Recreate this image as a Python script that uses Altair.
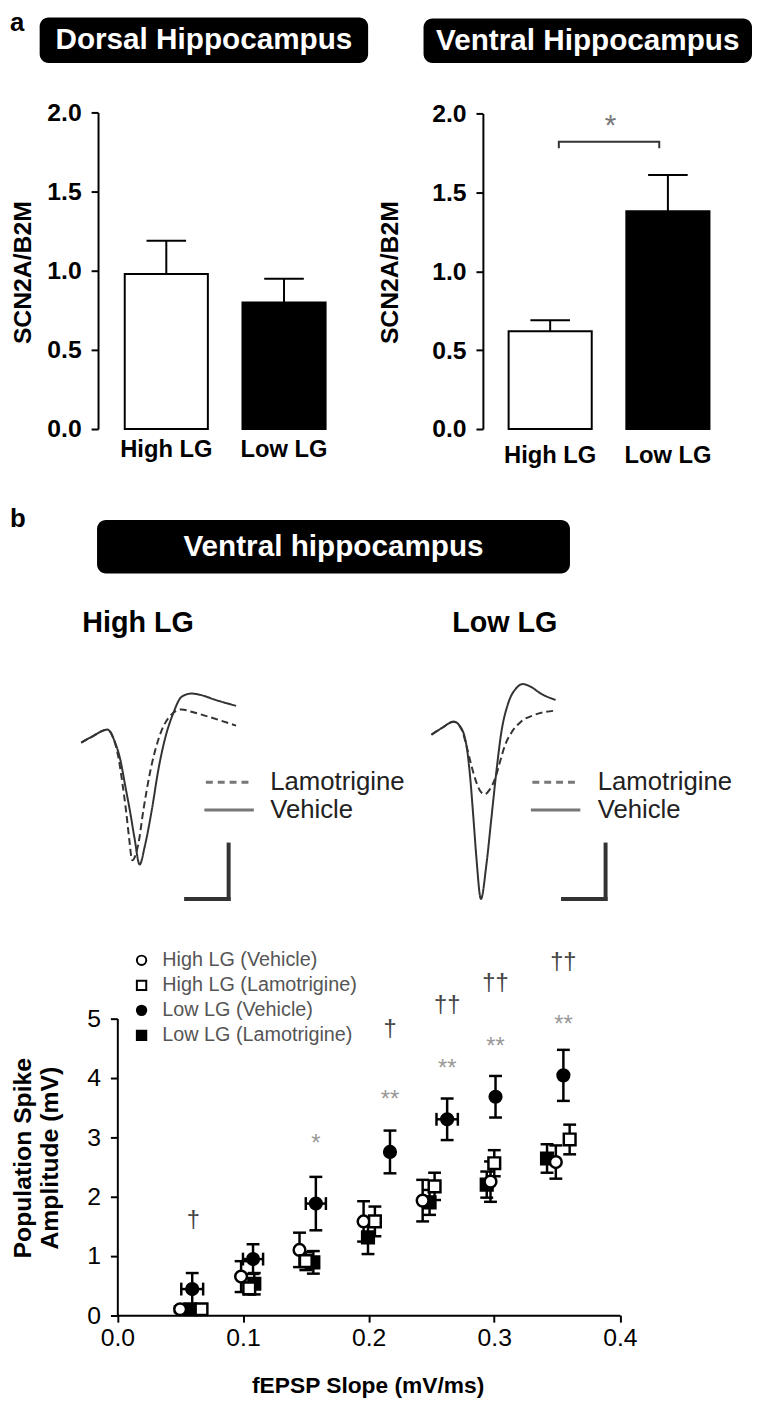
import altair as alt
import pandas as pd

FONT = "Liberation Sans"
W, H = 752, 1404

# ---------------- panel a : SCN2A / B2M bars ----------------
groups = ["High LG", "Low LG"]
dorsal_mean = [0.98, 0.80]
dorsal_sem = [0.21, 0.15]
ventral_mean = [0.62, 1.38]
ventral_sem = [0.07, 0.23]
ratio_ticks = [0.0, 0.5, 1.0, 1.5, 2.0]
bracket_level = 1.82
bracket_drop = 0.04

# ---------------- panel b : example traces (ms, mV) ----------------
hi_veh_t = [0.00, 0.23, 0.53, 0.66, 0.79, 0.89, 0.99, 1.08, 1.18, 1.29, 1.43, 1.56, 1.69, 1.86, 2.03, 2.23, 2.43, 2.69, 3.13]
hi_veh_v = [0.00, 0.16, 0.33, 0.08, -0.43, -1.09, -1.76, -2.43, -3.08, -2.59, -1.68, -0.68, 0.08, 0.74, 1.16, 1.24, 1.20, 1.09, 0.93]
hi_lam_t = [0.00, 0.23, 0.53, 0.66, 0.76, 0.84, 0.91, 0.97, 1.03, 1.15, 1.26, 1.39, 1.56, 1.76, 2.03, 2.23, 2.56, 3.13]
hi_lam_v = [0.00, 0.16, 0.33, 0.08, -0.43, -1.09, -1.76, -2.43, -2.97, -2.59, -1.68, -0.76, 0.08, 0.62, 0.84, 0.78, 0.66, 0.43]
lo_veh_t = [0.00, 0.21, 0.45, 0.58, 0.71, 0.78, 0.85, 0.91, 1.00, 1.11, 1.21, 1.31, 1.41, 1.55, 1.71, 1.85, 2.01, 2.21, 2.51]
lo_veh_v = [0.00, 0.17, 0.33, 0.21, -0.29, -1.04, -2.13, -3.13, -4.15, -3.29, -2.13, -0.96, 0.04, 0.79, 1.17, 1.28, 1.21, 1.04, 0.88]
lo_lam_t = [0.00, 0.21, 0.45, 0.61, 0.71, 0.81, 0.91, 1.01, 1.08, 1.18, 1.28, 1.38, 1.48, 1.61, 1.81, 2.08, 2.51]
lo_lam_v = [0.00, 0.17, 0.33, 0.13, -0.29, -0.79, -1.21, -1.46, -1.50, -1.38, -1.13, -0.71, -0.29, 0.04, 0.33, 0.50, 0.61]
trace_conditions = ["Vehicle", "Lamotrigine"]

# ---------------- panel b : input-output curve ----------------
series_names = ["High LG (Vehicle)", "High LG (Lamotrigine)", "Low LG (Vehicle)", "Low LG (Lamotrigine)"]
series_shapes = ["circle", "square", "circle", "square"]
series_fills = ["white", "white", "black", "black"]
hv_x = [0.050, 0.0985, 0.145, 0.196, 0.243, 0.297, 0.349]
hv_y = [0.10, 0.65, 1.10, 1.58, 1.93, 2.25, 2.58]
hv_e = [0.05, 0.26, 0.29, 0.34, 0.35, 0.34, 0.28]
hl_x = [0.067, 0.105, 0.150, 0.205, 0.2525, 0.300, 0.360]
hl_y = [0.10, 0.45, 0.91, 1.58, 2.17, 2.56, 2.96]
hl_e = [0.05, 0.10, 0.15, 0.25, 0.23, 0.22, 0.25]
lv_x = [0.0596, 0.108, 0.158, 0.217, 0.2625, 0.301, 0.355]
lv_y = [0.44, 0.945, 1.88, 2.75, 3.30, 3.68, 4.04]
lv_e = [0.27, 0.25, 0.45, 0.36, 0.35, 0.35, 0.43]
lv_xe = [0.0087, 0.008, 0.008, 0.0, 0.0085, 0.0, 0.0]
ll_x = [0.058, 0.109, 0.156, 0.1995, 0.2485, 0.294, 0.342]
ll_y = [0.10, 0.53, 0.89, 1.31, 1.90, 2.20, 2.64]
ll_e = [0.05, 0.18, 0.19, 0.28, 0.21, 0.22, 0.24]
dag_x = [0.0605, 0.217, 0.2625, 0.301, 0.355]
dag_y = [1.58, 4.81, 5.20, 5.57, 5.93]
dag_t = ["†", "†", "††", "††", "††"]
star_x = [0.158, 0.217, 0.2625, 0.301, 0.355]
star_y = [2.97, 3.70, 4.23, 4.60, 4.97]
star_t = ["*", "**", "**", "**", "**"]
slope_ticks = [0.0, 0.1, 0.2, 0.3, 0.4]
amp_ticks = [0, 1, 2, 3, 4, 5]


# ---------------- helpers ----------------
def qscale(domain, rng):
    return alt.Scale(domain=domain, range=rng, nice=False, zero=False)


def text_at(txt, x, y, size, weight="normal", color="black", align="left",
            baseline="middle", angle=0):
    return alt.Chart().mark_text(
        text=txt, font=FONT, fontSize=size, fontWeight=weight, color=color,
        align=align, baseline=baseline, angle=angle,
    ).encode(x=alt.value(x), y=alt.value(y))


def box(x0, x1, y0, y1):
    return alt.Chart().mark_rect(color="black", cornerRadius=9).encode(
        x=alt.value(x0), x2=alt.value(x1), y=alt.value(y0), y2=alt.value(y1))


def seg(x0, x1, y0, y1, width=4, color="#333333", dash=None):
    kw = dict(color=color, strokeWidth=width, strokeCap="square")
    if dash:
        kw = dict(color=color, strokeWidth=width, strokeDash=dash)
    return alt.Chart().mark_rule(**kw).encode(
        x=alt.value(x0), x2=alt.value(x1), y=alt.value(y0), y2=alt.value(y1))


def left_axis(xpos, values, fmt, size, weight, pad=10):
    return alt.Axis(orient="left", offset=-xpos, values=values, format=fmt,
                    tickSize=7, tickWidth=2, tickColor="black",
                    domainColor="black", domainWidth=2,
                    labelFont=FONT, labelFontSize=size, labelFontWeight=weight,
                    labelColor="black", labelPadding=pad, labelFlush=False,
                    labelOverlap=False, grid=False, title=None)


# ---------------- panel a layers ----------------
def bar_layers(means, sems, x_range, y_range, axis_x, label_pad, with_bracket=False):
    df = pd.DataFrame({"group": groups, "mean": means, "sem": sems})
    df["top"] = df["mean"] + df["sem"]
    df["base"] = 0.0
    xs = alt.Scale(domain=groups, range=x_range, paddingInner=0.294, paddingOuter=0)
    ys = qscale([0, 2], y_range)
    xaxis = alt.Axis(orient="bottom", offset=y_range[0] - H, domain=False, ticks=False,
                     labelFont=FONT, labelFontSize=24, labelFontWeight="bold",
                     labelColor="black", labelPadding=label_pad, labelAngle=0,
                     grid=False, title=None)
    fill = alt.when(alt.datum.group == "Low LG").then(alt.value("black")).otherwise(alt.value("white"))
    bars = alt.Chart(df).mark_bar(stroke="black", strokeWidth=2).encode(
        x=alt.X("group:N", scale=xs, axis=xaxis, sort=groups),
        y=alt.Y("mean:Q", scale=ys, axis=left_axis(axis_x, ratio_ticks, ".1f", 25, "bold")),
        y2="base:Q",
        fill=fill,
    )
    err = alt.Chart(df).mark_rule(color="black", strokeWidth=2).encode(
        x=alt.X("group:N", scale=xs, axis=None, sort=groups),
        y=alt.Y("mean:Q", scale=ys, axis=None),
        y2="top:Q",
    )
    cap = alt.Chart(df).mark_tick(orient="horizontal", size=40, thickness=2,
                                  color="black", opacity=1).encode(
        x=alt.X("group:N", scale=xs, axis=None, sort=groups),
        y=alt.Y("top:Q", scale=ys, axis=None),
    )
    out = [bars, err, cap]
    if with_bracket:
        bdf = pd.DataFrame({
            "group": [groups[0], groups[0], groups[1], groups[1]],
            "y": [bracket_level - bracket_drop, bracket_level, bracket_level,
                  bracket_level - bracket_drop],
            "k": [0, 1, 2, 3],
        })
        out.append(alt.Chart(bdf).mark_line(color="#333333", strokeWidth=2).encode(
            x=alt.X("group:N", scale=xs, axis=None, sort=groups),
            y=alt.Y("y:Q", scale=ys, axis=None),
            order="k:Q",
        ))
    return out


# ---------------- panel b trace layers ----------------
def trace_layer(tv, vv, tl, vl, x_range, y_range):
    df = pd.concat([
        pd.DataFrame({"t": tv, "v": vv, "cond": trace_conditions[0]}),
        pd.DataFrame({"t": tl, "v": vl, "cond": trace_conditions[1]}),
    ])
    return alt.Chart(df).mark_line(interpolate="monotone", color="#333333", strokeWidth=2).encode(
        x=alt.X("t:Q", scale=qscale([0, 3.2], x_range), axis=None),
        y=alt.Y("v:Q", scale=qscale([-4.5, 1.5], y_range), axis=None),
        strokeDash=alt.StrokeDash("cond:N", scale=alt.Scale(domain=trace_conditions,
                                                            range=[[1, 0], [7, 4]]), legend=None),
    )


# ---------------- panel b scatter layers ----------------
sx_range = [110.5, 618.5]
sy_range = [1313.7, 1013.7]


def sx(**kw):
    return alt.X(scale=qscale([0, 0.4], sx_range), **kw)


def sy(**kw):
    return alt.Y(scale=qscale([0, 5], sy_range), **kw)


parts = []
for name, xs_, ys_, es_ in [
    (series_names[3], ll_x, ll_y, ll_e),
    (series_names[2], lv_x, lv_y, lv_e),
    (series_names[0], hv_x, hv_y, hv_e),
    (series_names[1], hl_x, hl_y, hl_e),
]:
    parts.append(pd.DataFrame({"series": name, "x": xs_, "y": ys_, "e": es_}))
pts = pd.concat(parts, ignore_index=True)
pts["lo"] = pts["y"] - pts["e"]
pts["hi"] = pts["y"] + pts["e"]
caps = pd.concat([
    pts[["x", "lo"]].rename(columns={"lo": "c"}),
    pts[["x", "hi"]].rename(columns={"hi": "c"}),
], ignore_index=True)
xerr = pd.DataFrame({"x": lv_x, "y": lv_y, "xe": lv_xe})
xerr = xerr[xerr["xe"] > 0].copy()
xerr["xlo"] = xerr["x"] - xerr["xe"]
xerr["xhi"] = xerr["x"] + xerr["xe"]
xcaps = pd.concat([
    xerr[["y", "xlo"]].rename(columns={"xlo": "c"}),
    xerr[["y", "xhi"]].rename(columns={"xhi": "c"}),
], ignore_index=True)
sig_dag = pd.DataFrame({"x": dag_x, "y": dag_y, "label": dag_t})
sig_star = pd.DataFrame({"x": star_x, "y": star_y, "label": star_t})

x_axis_s = alt.Axis(orient="bottom", offset=sy_range[0] - H, values=slope_ticks, format=".1f",
                    tickSize=7, tickWidth=2, tickColor="black", domainColor="black",
                    domainWidth=2, labelFont=FONT, labelFontSize=25, labelColor="black",
                    labelPadding=4, labelFlush=False, labelOverlap=False, grid=False, title=None)
y_axis_s = left_axis(sx_range[0], amp_ticks, "d", 25, "normal", pad=10)

shape_scale = alt.Scale(domain=series_names, range=series_shapes)
fill_scale = alt.Scale(domain=series_names, range=series_fills)

s_err = alt.Chart(pts).mark_rule(color="black", strokeWidth=2.5).encode(
    x=sx(field="x", type="quantitative", axis=None),
    y=sy(field="lo", type="quantitative", axis=None), y2="hi:Q")
s_caps = alt.Chart(caps).mark_tick(orient="horizontal", size=13, thickness=2.5,
                                   color="black", opacity=1).encode(
    x=sx(field="x", type="quantitative", axis=None),
    y=sy(field="c", type="quantitative", axis=None))
s_xerr = alt.Chart(xerr).mark_rule(color="black", strokeWidth=2.5).encode(
    x=sx(field="xlo", type="quantitative", axis=None), x2="xhi:Q",
    y=sy(field="y", type="quantitative", axis=None))
s_xcaps = alt.Chart(xcaps).mark_tick(orient="vertical", size=13, thickness=2.5,
                                     color="black", opacity=1).encode(
    x=sx(field="c", type="quantitative", axis=None),
    y=sy(field="y", type="quantitative", axis=None))
s_pts = alt.Chart(pts).mark_point(filled=True, size=140, stroke="black", strokeWidth=2.5,
                                  opacity=1).encode(
    x=sx(field="x", type="quantitative", axis=x_axis_s),
    y=sy(field="y", type="quantitative", axis=y_axis_s),
    shape=alt.Shape("series:N", scale=shape_scale, legend=None),
    fill=alt.Fill("series:N", scale=fill_scale, legend=None),
)
s_dag = alt.Chart(sig_dag).mark_text(font=FONT, fontSize=24, color="#444444").encode(
    x=sx(field="x", type="quantitative", axis=None),
    y=sy(field="y", type="quantitative", axis=None), text="label:N")
s_star = alt.Chart(sig_star).mark_text(font=FONT, fontSize=24, color="#999999", dy=5).encode(
    x=sx(field="x", type="quantitative", axis=None),
    y=sy(field="y", type="quantitative", axis=None), text="label:N")

# legend of the scatter (symbols + labels)
legend_layers = []
for i, name in enumerate(series_names):
    yy = 955 + i * 25.3
    legend_layers.append(
        alt.Chart().mark_point(shape=series_shapes[i], filled=True, fill=series_fills[i],
                               stroke="black", strokeWidth=2, size=90, opacity=1).encode(
            x=alt.value(135), y=alt.value(yy)))
    legend_layers.append(text_at(name, 156, yy, 20, color="#555555"))

# ---------------- assemble ----------------
layers = []
# panel a
layers.append(text_at("a", 2, 16, 26, weight="bold", baseline="alphabetic"))
layers.append(box(32, 364, 2, 48))
layers.append(text_at("Dorsal Hippocampus", 198, 25, 30, weight="bold", color="white", align="center"))
layers.append(box(420, 752, 3, 48))
layers.append(text_at("Ventral Hippocampus", 586, 26, 30, weight="bold", color="white", align="center"))
layers += bar_layers(dorsal_mean, dorsal_sem, [118, 321], [418, 98], 91, 9)
layers += bar_layers(ventral_mean, ventral_sem, [506, 709], [418, 99], 480, 15, with_bracket=True)
layers.append(text_at("SCN2A/B2M", 15, 260, 25, weight="bold", align="center", angle=270))
layers.append(text_at("SCN2A/B2M", 386, 260, 25, weight="bold", align="center", angle=270))
layers.append(text_at("*", 609, 112, 30, color="#777777", align="center"))

# panel b header
layers.append(text_at("b", 2, 517, 26, weight="bold", baseline="alphabetic"))
layers.append(box(90, 568, 510, 564))
layers.append(text_at("Ventral hippocampus", 329, 537, 30, weight="bold", color="white", align="center"))
layers.append(text_at("High LG", 75, 614, 29, weight="bold"))
layers.append(text_at("Low LG", 449, 614, 29, weight="bold"))

# traces
layers.append(trace_layer(hi_veh_t, hi_veh_v, hi_lam_t, hi_lam_v, [74, 234], [915, 675]))
layers.append(trace_layer(lo_veh_t, lo_veh_v, lo_lam_t, lo_lam_v, [428, 588], [907, 667]))
for x0, x1, tx in [(200, 247, 265), (530, 577, 596)]:
    layers.append(seg(x0, x1, 775, 775, width=3, color="#777777", dash=[7, 5]))
    layers.append(seg(x0, x1, 803, 803, width=3, color="#777777"))
    layers.append(text_at("Lamotrigine", tx, 775, 26, color="#222222"))
    layers.append(text_at("Vehicle", tx, 803, 26, color="#222222"))
# scale bars
layers.append(seg(223, 223, 838, 893))
layers.append(seg(180, 223, 893, 893))
layers.append(seg(604, 604, 838, 893))
layers.append(seg(561, 604, 893, 893))

# scatter
layers += [s_err, s_caps, s_xerr, s_xcaps, s_pts, s_dag, s_star]
layers += legend_layers
layers.append(text_at("Population Spike", 15, 1155, 25, weight="bold", align="center", angle=270))
layers.append(text_at("Amplitude (mV)", 43, 1155, 25, weight="bold", align="center", angle=270))
layers.append(text_at("fEPSP Slope (mV/ms)", 364, 1385, 23, weight="bold", align="center"))

base = pd.DataFrame({"k": [0]})
chart = alt.layer(*layers, data=base).resolve_scale(
    x="independent", y="independent"
).properties(
    width=W, height=H, padding=0, autosize=alt.AutoSizeParams(type="none"),
).configure_view(strokeWidth=0)

chart.save("out.html", embed_options={"renderer": "svg", "actions": False})
